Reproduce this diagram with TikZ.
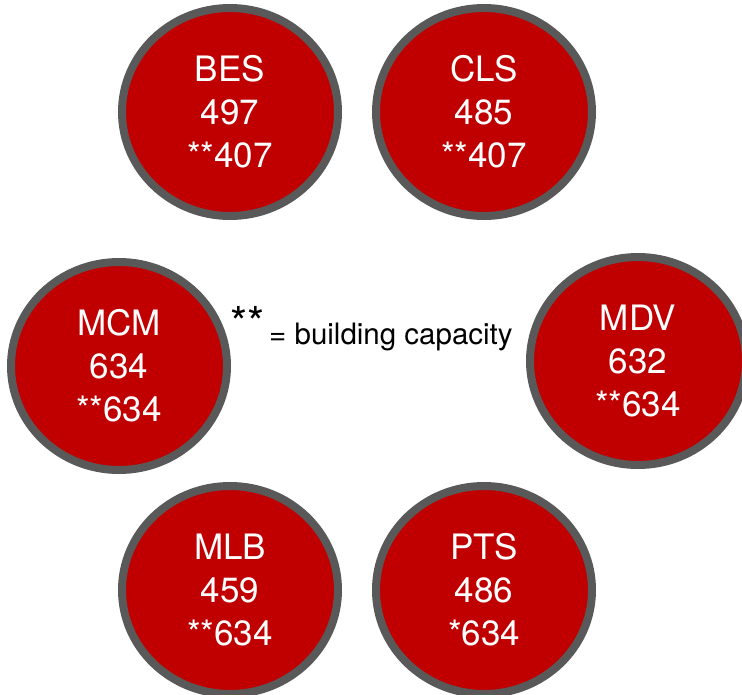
\documentclass[tikz,border=0pt]{standalone}
\usepackage{fontspec}
\setmainfont{TeX Gyre Heros}
\usetikzlibrary{shapes.geometric}
\definecolor{schoolred}{HTML}{C00000}
\definecolor{rimgray}{HTML}{595959}
\begin{document}
\begin{tikzpicture}[x=1pt,y=-1pt,line join=round,line cap=round,
		school/.style={ellipse,draw=rimgray,fill=schoolred,line width=8pt,minimum width=216pt,minimum height=208pt,inner sep=0pt,align=center,text=white,font=\fontsize{35}{43}\selectfont}]
	\useasboundingbox (0,0) rectangle (742,694);
	\clip (0,0) rectangle (742,694);
	\foreach \n/\x/\y/\a/\b in {BES/230/112/497/**407,CLS/484/112/485/**407,MCM/119/366/634/**634,MDV/638/361/632/**634,MLB/230/590/459/**634,PTS/484/590/486/*634
	}{\node[school] (\n) at (\x,\y) {\n\\\a\\\b};}
	\node[anchor=base west,inner sep=0pt,font=\fontsize{44}{44}\selectfont] (stars) at (230,338) {**};
	\node[anchor=base west,inner sep=0pt,font=\fontsize{29.5}{29.5}\selectfont] (legend) at (269,344) {= building capacity};
\end{tikzpicture}
\end{document}
